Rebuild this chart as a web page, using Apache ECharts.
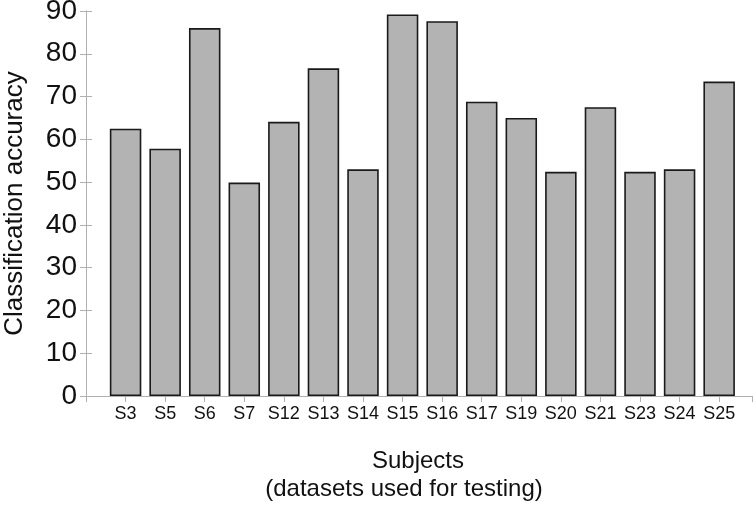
<!DOCTYPE html>
<html><head><meta charset="utf-8">
<script src="https://cdn.jsdelivr.net/npm/echarts@6/dist/echarts.min.js"></script>
<style>html,body{margin:0;padding:0;background:#fff}#c{width:756px;height:511px}</style>
</head><body><div id="c"></div>
<script>
const categories = ['S3','S5','S6','S7','S12','S13','S14','S15','S16','S17','S19','S20','S21','S23','S24','S25'];
const accuracy = [62.5,57.8,86.0,49.9,64.1,76.6,53.0,89.2,87.6,68.8,65.0,52.4,67.5,52.4,53.0,73.5];
const yTicks = [0,10,20,30,40,50,60,70,80,90];
const xTitle = 'Subjects';
const xSubtitle = '(datasets used for testing)';
const yTitle = 'Classification accuracy';

const font = 'Liberation Sans, Arial, sans-serif';
const frame = '#b0b0b0';
const xMax = 16.83;
const chart = echarts.init(document.getElementById('c'));
const barData = accuracy.map((v, i) => [i + 1, v]);
chart.setOption({
  animation: false,
  grid: {left: 86, right: 4, top: 11, bottom: 115, outerBoundsMode: 'none', containLabel: false},
  xAxis: [{
    type: 'value', min: 0, max: xMax, interval: 1, position: 'bottom',
    splitLine: {show: false},
    axisLine: {lineStyle: {color: frame, width: 1}},
    axisTick: {show: false},
    axisLabel: {color: '#111', fontSize: 18, fontFamily: font, margin: 9, showMinLabel: true, showMaxLabel: true,
      formatter: v => (Number.isInteger(v) && v >= 1 && v <= categories.length) ? categories[v - 1] : ''}
  },{
    type: 'value', min: 0, max: xMax, interval: 1, position: 'top',
    splitLine: {show: false},
    axisLine: {show: true, lineStyle: {color: frame, width: 1}},
    axisTick: {show: true, inside: true, length: 6, lineStyle: {color: frame}},
    axisLabel: {show: false}
  }],
  yAxis: [{
    type: 'value', min: 0, max: 90, interval: 10, position: 'left',
    axisLine: {show: true, lineStyle: {color: frame, width: 1}},
    axisTick: {show: true, inside: true, length: 6, lineStyle: {color: frame}},
    splitLine: {show: false},
    axisLabel: {color: '#111', fontSize: 28, fontFamily: font, margin: 9,
      formatter: v => yTicks.includes(v) ? String(v) : ''},
    name: yTitle, nameLocation: 'middle', nameGap: 58,
    nameTextStyle: {color: '#111', fontSize: 26, fontFamily: font}
  },{
    type: 'value', min: 0, max: 90, interval: 10, position: 'right',
    axisLine: {show: true, lineStyle: {color: frame, width: 1}},
    axisTick: {show: true, inside: true, length: 6, lineStyle: {color: frame}},
    splitLine: {show: false},
    axisLabel: {show: false}
  }],
  graphic: [
    {type: 'text', x: 418, y: 461, style: {text: xTitle, fill: '#111', fontSize: 24, fontFamily: font, align: 'center', verticalAlign: 'middle'}},
    {type: 'text', x: 404, y: 489, style: {text: xSubtitle, fill: '#111', fontSize: 24, fontFamily: font, align: 'center', verticalAlign: 'middle'}}
  ],
  series: [{
    type: 'bar', data: barData, xAxisIndex: 0, yAxisIndex: 0,
    barWidth: 31.5,
    itemStyle: {color: '#b3b3b3', borderColor: '#1a1a1a', borderWidth: 1.6}
  }]
});
</script></body></html>
